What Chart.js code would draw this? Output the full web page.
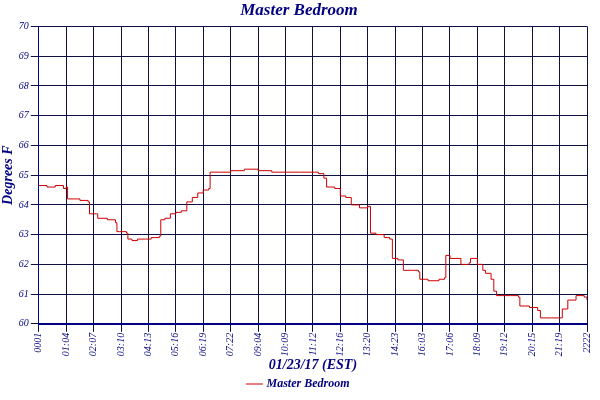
<!DOCTYPE html>
<html><head><meta charset="utf-8">
<script src="https://cdn.jsdelivr.net/npm/chart.js@4"></script>
<style>body{margin:0;background:#fff}#wrap{width:600px;height:400px}</style>
</head><body><div id="wrap"><canvas id="c"></canvas></div>
<script>
const tickLabels=['0001','01:04','02:07','03:10','04:13','05:16','06:19','07:22','09:04','10:09','11:12','12:16','13:20','14:23','16:03','17:06','18:09','19:12','20:15','21:19','2222']
// position along the time axis (grid units) and temperature
const pos=[0,0.3,0.6,0.9,1.0,1.05,1.3,1.5,1.8,1.85,2.1,2.15,2.5,2.8,2.85,2.95,3.2,3.25,3.4,3.6,3.9,4.1,4.4,4.45,4.6,4.8,5.0,5.2,5.4,5.6,5.8,6.0,6.2,6.25,6.6,7.0,7.5,8.0,8.5,9.0,9.5,10.0,10.2,10.4,10.5,10.8,11.0,11.2,11.4,11.7,11.9,12.0,12.1,12.3,12.6,12.8,12.9,13.1,13.3,13.6,13.85,13.9,14.2,14.6,14.8,14.85,15.0,15.4,15.7,15.75,16.0,16.2,16.3,16.5,16.6,16.7,17.2,17.5,17.55,17.9,18.2,18.3,18.7,19.0,19.1,19.3,19.6,19.9,20.0]
const temp=[64.65,64.6,64.65,64.55,64.6,64.2,64.2,64.15,64.1,63.7,63.7,63.55,63.5,63.4,63.1,63.1,63.05,62.85,62.8,62.85,62.85,62.9,62.95,63.5,63.55,63.7,63.75,63.8,64.1,64.25,64.4,64.5,64.55,65.1,65.1,65.15,65.2,65.15,65.1,65.1,65.1,65.1,65.05,64.9,64.6,64.55,64.3,64.25,64.0,63.9,63.9,63.95,63.05,63.0,62.9,62.85,62.2,62.15,61.8,61.8,61.75,61.5,61.45,61.5,61.55,62.3,62.2,62.0,62.05,62.2,62.0,61.8,61.7,61.5,61.1,60.95,60.95,60.9,60.6,60.55,60.45,60.2,60.2,60.2,60.5,60.8,60.95,60.9,60.8]
const navy='#000080'
const font={family:'Liberation Serif',style:'italic'}
new Chart(document.getElementById('c'),{
  type:'line',
  data:{datasets:[{label:'Master Bedroom',data:pos.map((p,i)=>({x:p,y:temp[i]})),borderColor:'#cc0000',backgroundColor:'#cc0000',borderWidth:1,pointRadius:0,tension:0,stepped:true}]},
  options:{animation:false,responsive:true,maintainAspectRatio:false,
    layout:{padding:{right:2,top:0,bottom:0}},
    plugins:{
      title:{display:true,text:'Master Bedroom',color:navy,font:{...font,size:17,weight:'bold'},padding:{top:0,bottom:6}},
      legend:{position:'bottom',labels:{color:navy,usePointStyle:true,pointStyle:'line',boxWidth:14,padding:4,font:{...font,size:12,weight:'bold'}}}
    },
    scales:{
      x:{type:'linear',min:0,max:20,grid:{color:'#101040',lineWidth:1},border:{color:navy,width:2},
        ticks:{stepSize:1,autoSkip:false,maxRotation:90,minRotation:90,padding:1,color:navy,font:{...font,size:10},callback:v=>tickLabels[v]},
        title:{display:true,text:'01/23/17 (EST)',color:navy,font:{...font,size:14,weight:'bold'},padding:{top:0,bottom:0}}},
      y:{min:60,max:70,grid:{color:'#101040',lineWidth:1},border:{color:navy,width:1},
        ticks:{stepSize:1,padding:2,color:navy,font:{...font,size:10}},
        title:{display:true,text:'Degrees F',color:navy,font:{...font,size:14,weight:'bold'},padding:0}}
    }}
})
</script></body></html>
